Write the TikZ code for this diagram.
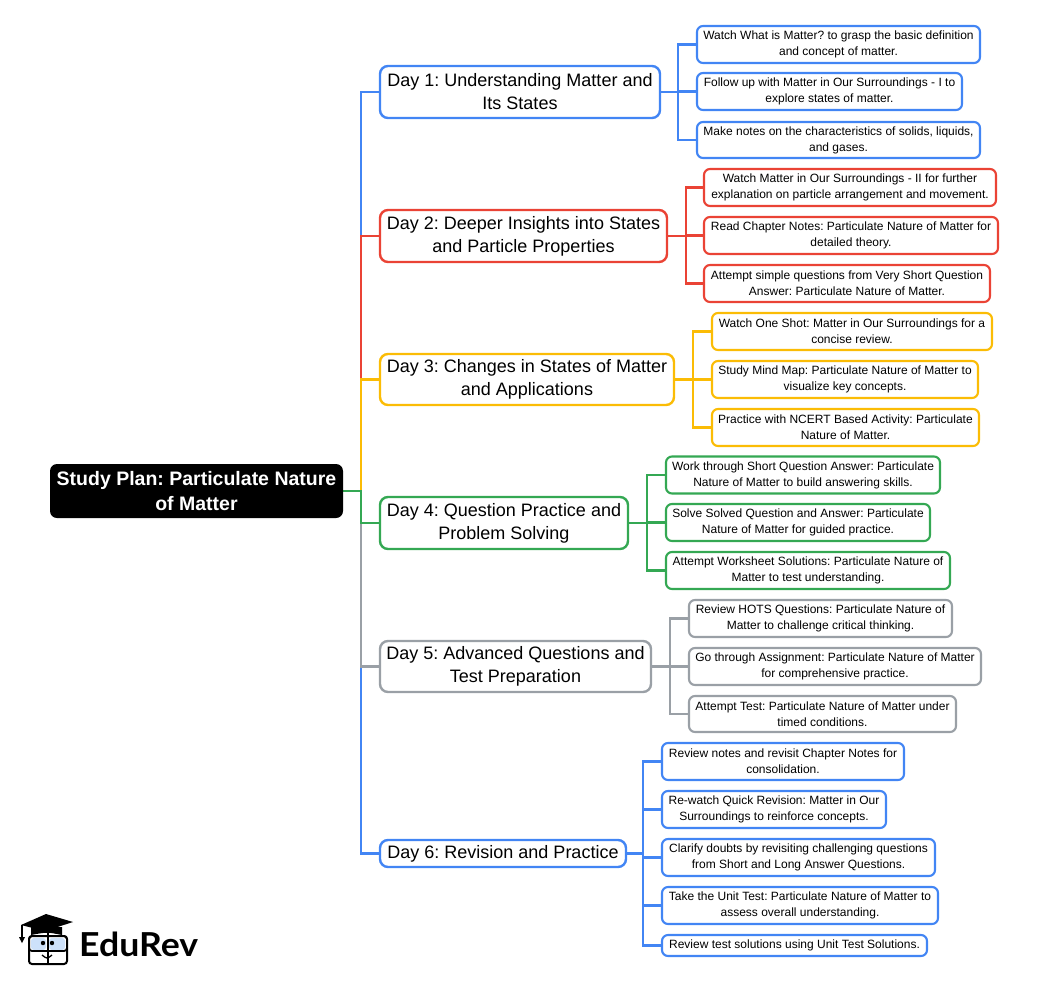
\documentclass[tikz,border=0pt]{standalone}
\usepackage{fontspec}
\setmainfont{Liberation Sans}
\newfontfamily\logofont{Lato}
\usetikzlibrary{backgrounds}
\definecolor{cB}{RGB}{66,133,244}
\definecolor{cR}{RGB}{234,67,53}
\definecolor{cY}{RGB}{251,188,5}
\definecolor{cG}{RGB}{52,168,83}
\definecolor{cK}{RGB}{154,160,166}
\definecolor{glass}{RGB}{205,225,250}
\begin{document}
\frenchspacing
\begin{tikzpicture}[x=1pt,y=-1pt,
  rootbox/.style={fill=black,text=white,rounded corners=7pt,align=center,inner sep=0pt,
    font=\bfseries\fontsize{19.5}{25}\selectfont},
  daybox/.style={draw=#1,fill=white,line width=2.4pt,rounded corners=8pt,align=center,inner sep=0pt,
    font=\fontsize{18}{23}\selectfont},
  leafbox/.style={draw=#1,fill=white,line width=2.1pt,rounded corners=6pt,align=center,inner sep=0pt,
    font=\fontsize{12}{16}\selectfont},
  conn/.style={draw=#1,line width=2.7pt},
]
\useasboundingbox (0,0) rectangle (1050,983);

% root
\node[rootbox,minimum width=293pt,minimum height=54pt] (root) at (196.5,491) {Study Plan: Particulate Nature\\of Matter};
\coordinate (tr) at (361,491);

% day nodes
\node[daybox=cB,minimum width=280pt,minimum height=52pt] (d1) at (520,92) {Day 1: Understanding Matter and\\Its States};
\node[daybox=cR,minimum width=287pt,minimum height=52pt] (d2) at (523.5,236) {Day 2: Deeper Insights into States\\and Particle Properties};
\node[daybox=cY,minimum width=294pt,minimum height=51pt] (d3) at (527,379.5) {Day 3: Changes in States of Matter\\and Applications};
\node[daybox=cG,minimum width=248pt,minimum height=52pt] (d4) at (504,523) {Day 4: Question Practice and\\Problem Solving};
\node[daybox=cK,minimum width=271pt,minimum height=51pt] (d5) at (515.5,666.5) {Day 5: Advanced Questions and\\Test Preparation};
\node[daybox=cB,minimum width=246pt,minimum height=27pt] (d6) at (503,853.5) {Day 6: Revision and Practice};

% leaves day 1
\node[leafbox=cB,minimum width=283pt,minimum height=37pt] (l1a) at (838.5,44.5) {Watch What is Matter? to grasp the basic definition\\and concept of matter.};
\node[leafbox=cB,minimum width=265pt,minimum height=37pt] (l1b) at (829.5,91.5) {Follow up with Matter in Our Surroundings - I to\\explore states of matter.};
\node[leafbox=cB,minimum width=283pt,minimum height=36pt] (l1c) at (838.5,140) {Make notes on the characteristics of solids, liquids,\\and gases.};
% day 2
\node[leafbox=cR,minimum width=292pt,minimum height=37pt] (l2a) at (850,187.5) {Watch Matter in Our Surroundings - II for further\\explanation on particle arrangement and movement.};
\node[leafbox=cR,minimum width=294pt,minimum height=37pt] (l2b) at (851,235.5) {Read Chapter Notes: Particulate Nature of Matter for\\detailed theory.};
\node[leafbox=cR,minimum width=286pt,minimum height=37pt] (l2c) at (847,283.5) {Attempt simple questions from Very Short Question\\Answer: Particulate Nature of Matter.};
% day 3
\node[leafbox=cY,minimum width=280pt,minimum height=37pt] (l3a) at (852,331.5) {Watch One Shot: Matter in Our Surroundings for a\\concise review.};
\node[leafbox=cY,minimum width=266pt,minimum height=37pt] (l3b) at (845,379.5) {Study Mind Map: Particulate Nature of Matter to\\visualize key concepts.};
\node[leafbox=cY,minimum width=267pt,minimum height=37pt] (l3c) at (845.5,427.5) {Practice with NCERT Based Activity: Particulate\\Nature of Matter.};
% day 4
\node[leafbox=cG,minimum width=274pt,minimum height=37pt] (l4a) at (803,475) {Work through Short Question Answer: Particulate\\Nature of Matter to build answering skills.};
\node[leafbox=cG,minimum width=264pt,minimum height=37pt] (l4b) at (798,522.5) {Solve Solved Question and Answer: Particulate\\Nature of Matter for guided practice.};
\node[leafbox=cG,minimum width=284pt,minimum height=37pt] (l4c) at (808,570.5) {Attempt Worksheet Solutions: Particulate Nature of\\Matter to test understanding.};
% day 5
\node[leafbox=cK,minimum width=263pt,minimum height=37pt] (l5a) at (820.5,618.5) {Review HOTS Questions: Particulate Nature of\\Matter to challenge critical thinking.};
\node[leafbox=cK,minimum width=292pt,minimum height=37pt] (l5b) at (835,666.5) {Go through Assignment: Particulate Nature of Matter\\for comprehensive practice.};
\node[leafbox=cK,minimum width=267pt,minimum height=36pt] (l5c) at (822.5,714) {Attempt Test: Particulate Nature of Matter under\\timed conditions.};
% day 6
\node[leafbox=cB,minimum width=242pt,minimum height=37pt] (l6a) at (783,761.5) {Review notes and revisit Chapter Notes for\\consolidation.};
\node[leafbox=cB,minimum width=224pt,minimum height=37pt] (l6b) at (774,809.5) {Re-watch Quick Revision: Matter in Our\\Surroundings to reinforce concepts.};
\node[leafbox=cB,minimum width=273pt,minimum height=37pt] (l6c) at (798.5,857.5) {Clarify doubts by revisiting challenging questions\\from Short and Long Answer Questions.};
\node[leafbox=cB,minimum width=276pt,minimum height=37pt] (l6d) at (800,905.5) {Take the Unit Test: Particulate Nature of Matter to\\assess overall understanding.};
\node[leafbox=cB,minimum width=265pt,minimum height=21pt] (l6e) at (794.5,945.5) {Review test solutions using Unit Test Solutions.};

% branch points
\coordinate (b1) at (678,92);
\coordinate (b2) at (686,236);
\coordinate (b3) at (693,379.5);
\coordinate (b4) at (647,523);
\coordinate (b5) at (670,666.5);
\coordinate (b6) at (643,853.5);

\begin{scope}[on background layer]
  % trunk: outer branches first so inner ones lie on top
  \draw[conn=cB] (root.east) -- (tr) |- (d1.west);
  \draw[conn=cR] (root.east) -- (tr) |- (d2.west);
  \draw[conn=cY] (root.east) -- (tr) |- (d3.west);
  \draw[conn=cB] (root.east) -- (tr) |- (d6.west);
  \draw[conn=cK] (root.east) -- (tr) |- (d5.west);
  \draw[conn=cG] (root.east) -- (tr) |- (d4.west);
  % leaves
  \foreach \l in {l1a,l1b,l1c} \draw[conn=cB] (d1.east) -- (b1) |- (\l.west);
  \foreach \l in {l2a,l2b,l2c} \draw[conn=cR] (d2.east) -- (b2) |- (\l.west);
  \foreach \l in {l3a,l3b,l3c} \draw[conn=cY] (d3.east) -- (b3) |- (\l.west);
  \foreach \l in {l4a,l4b,l4c} \draw[conn=cG] (d4.east) -- (b4) |- (\l.west);
  \foreach \l in {l5a,l5b,l5c} \draw[conn=cK] (d5.east) -- (b5) |- (\l.west);
  \foreach \l in {l6a,l6b,l6c,l6d,l6e} \draw[conn=cB] (d6.east) -- (b6) |- (\l.west);
\end{scope}

% logo
\node[anchor=west,inner sep=0pt,font=\logofont\bfseries\fontsize{33}{33}\selectfont] (logo) at (79,944) {\scalebox{1.08}[1]{EduRev}};
% book / face
\draw[line width=2pt,rounded corners=3pt,fill=white] (29,936) rectangle (67,964);
\fill[glass,rounded corners=3pt] (31,938) rectangle (46,950);
\fill[glass,rounded corners=3pt] (49,938) rectangle (65,950);
\draw[line width=1.8pt,rounded corners=3pt] (29,936) rectangle (67,951);
\draw[line width=1.6pt] (48,933) -- (48,964);
\fill (43,943) circle (2.2pt);
\fill (52,943) circle (2.2pt);
\draw[line width=1.3pt] (42,955) .. controls (47,959) .. (52,955);
% cap
\fill (21,925) -- (46,914) -- (73,922) -- (45,931) -- cycle;
\fill (31,927) -- (62,927) -- (62,935) .. controls (47,932) .. (31,935) -- cycle;
\draw[line width=1.3pt] (22,925) -- (22,938);
\fill (19,937) -- (25,937) -- (22,943) -- cycle;
\end{tikzpicture}
\end{document}
